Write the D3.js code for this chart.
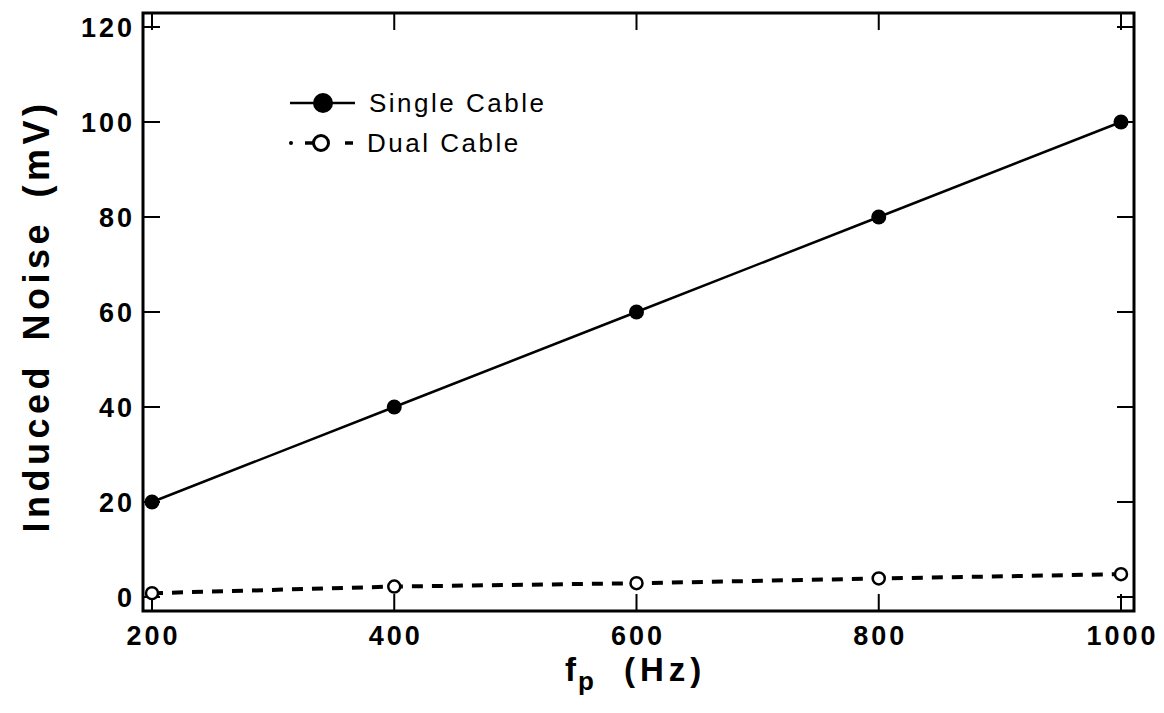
<!DOCTYPE html>
<html>
<head>
<meta charset="utf-8">
<script src="https://cdn.jsdelivr.net/npm/d3@7"></script>
<style>
  html, body { margin: 0; padding: 0; background: #fff; }
  svg { display: block; font-family: "Liberation Sans", Arial, Helvetica, sans-serif; }
</style>
</head>
<body>
<svg id="chart" width="1164" height="713"></svg>
<script>
// Pump frequency (Hz) and induced noise (mV) for the two cable arrangements
const frequencies = [200, 400, 600, 800, 1000];
const singleCable = [20, 40, 60, 80, 100];
const dualCable = [0.8, 2.2, 2.9, 3.9, 4.8];
const xTicks = [200, 400, 600, 800, 1000];
const yTicks = [0, 20, 40, 60, 80, 100, 120];
const seriesNames = ["Single Cable", "Dual Cable"];

const svg = d3.select("#chart");
const frame = { left: 143, right: 1134, top: 13, bottom: 611 };

const x = d3.scaleLinear().domain([200, 1000]).range([152, 1121]);
const y = d3.scaleLinear().domain([0, 120]).range([597, 27]);

const tickLen = 17;
const ink = "#000";

// Frame
svg.append("rect")
  .attr("x", frame.left).attr("y", frame.top)
  .attr("width", frame.right - frame.left).attr("height", frame.bottom - frame.top)
  .attr("fill", "none").attr("stroke", ink).attr("stroke-width", 3);

// Inward ticks on all four sides
const ticks = svg.append("g").attr("stroke", ink).attr("stroke-width", 2);
xTicks.forEach(v => {
  ticks.append("line").attr("x1", x(v)).attr("x2", x(v))
    .attr("y1", frame.bottom).attr("y2", frame.bottom - tickLen);
  ticks.append("line").attr("x1", x(v)).attr("x2", x(v))
    .attr("y1", frame.top).attr("y2", frame.top + tickLen);
});
yTicks.forEach(v => {
  ticks.append("line").attr("y1", y(v)).attr("y2", y(v))
    .attr("x1", frame.left).attr("x2", frame.left + tickLen);
  ticks.append("line").attr("y1", y(v)).attr("y2", y(v))
    .attr("x1", frame.right).attr("x2", frame.right - tickLen);
});

// Tick labels (spaced digits)
const tickFont = { size: 27, ls: 3 };
svg.append("g").selectAll("text").data(xTicks).join("text")
  .attr("x", v => x(v) + tickFont.ls / 2).attr("y", 645)
  .attr("text-anchor", "middle")
  .attr("font-size", tickFont.size).attr("font-weight", "bold")
  .attr("letter-spacing", tickFont.ls)
  .text(d => d);

svg.append("g").selectAll("text").data(yTicks).join("text")
  .attr("x", 135).attr("y", v => y(v) + 10)
  .attr("text-anchor", "end")
  .attr("font-size", tickFont.size).attr("font-weight", "bold")
  .attr("letter-spacing", tickFont.ls)
  .text(d => d);

// Axis titles
svg.append("text")
  .attr("transform", "translate(49,316) rotate(-90)")
  .attr("text-anchor", "middle")
  .attr("font-size", 36).attr("font-weight", "bold")
  .attr("letter-spacing", 4.5).attr("word-spacing", 8)
  .text("Induced Noise (mV)");

const xt = svg.append("text")
  .attr("x", 565).attr("y", 681)
  .attr("font-size", 33).attr("font-weight", "bold")
  .attr("letter-spacing", 2);
xt.append("tspan").text("f");
xt.append("tspan").attr("font-size", 26).attr("dy", 9).text("p");
xt.append("tspan").attr("dy", -9).attr("x", 624).attr("letter-spacing", 5).text("(Hz)");

// Series lines
const line = d3.line().x(d => x(d[0])).y(d => y(d[1]));
const singlePts = frequencies.map((f, i) => [f, singleCable[i]]);
const dualPts = frequencies.map((f, i) => [f, dualCable[i]]);

svg.append("path").datum(singlePts).attr("d", line)
  .attr("fill", "none").attr("stroke", ink).attr("stroke-width", 2.5);
svg.append("path").datum(dualPts).attr("d", line)
  .attr("fill", "none").attr("stroke", ink).attr("stroke-width", 4)
  .attr("stroke-dasharray", "11 9");

// Markers
svg.append("g").selectAll("circle").data(singlePts).join("circle")
  .attr("cx", d => x(d[0])).attr("cy", d => y(d[1])).attr("r", 7.5)
  .attr("fill", ink);
svg.append("g").selectAll("circle").data(dualPts).join("circle")
  .attr("cx", d => x(d[0])).attr("cy", d => y(d[1])).attr("r", 6)
  .attr("fill", "#fff").attr("stroke", ink).attr("stroke-width", 2.5);

// Legend
const lg = svg.append("g");
lg.append("line").attr("x1", 290).attr("x2", 355).attr("y1", 103).attr("y2", 103)
  .attr("stroke", ink).attr("stroke-width", 2.5);
lg.append("circle").attr("cx", 323).attr("cy", 103).attr("r", 10).attr("fill", ink);
lg.append("text").attr("x", 369).attr("y", 112)
  .attr("font-size", 26).attr("letter-spacing", 2.5).text(seriesNames[0]);

lg.append("circle").attr("cx", 291).attr("cy", 143).attr("r", 2).attr("fill", ink);
lg.append("line").attr("x1", 305).attr("x2", 313).attr("y1", 143).attr("y2", 143)
  .attr("stroke", ink).attr("stroke-width", 3.5);
lg.append("line").attr("x1", 345).attr("x2", 353).attr("y1", 143).attr("y2", 143)
  .attr("stroke", ink).attr("stroke-width", 3.5);
lg.append("circle").attr("cx", 321).attr("cy", 143).attr("r", 7.5)
  .attr("fill", "#fff").attr("stroke", ink).attr("stroke-width", 3);
lg.append("text").attr("x", 367).attr("y", 152)
  .attr("font-size", 26).attr("letter-spacing", 2.5).text(seriesNames[1]);
</script>
</body>
</html>
